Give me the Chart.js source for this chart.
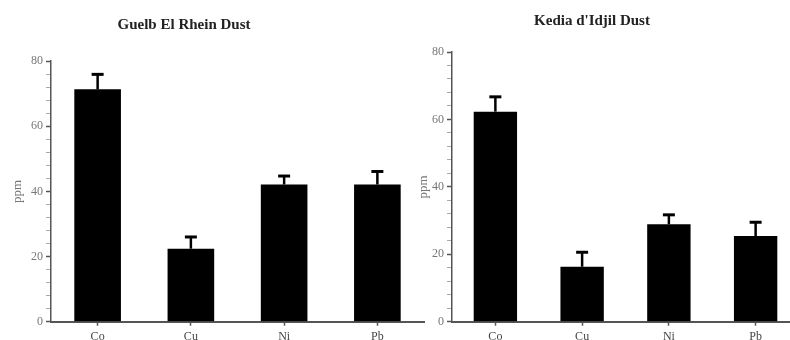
<!DOCTYPE html>
<html>
<head>
<meta charset="utf-8">
<script src="https://cdn.jsdelivr.net/npm/chart.js@4.4.1/dist/chart.umd.min.js"></script>
<style>
  html, body { margin: 0; padding: 0; background: #fff; overflow: hidden; }
  #wrap { position: relative; width: 790px; height: 340px; overflow: hidden; }
  canvas { position: absolute; top: 0; }
</style>
</head>
<body>
<div id="wrap">
  <canvas id="guelb" width="430" height="340" style="left:0" role="img" aria-label="Guelb El Rhein Dust: Co, Cu, Ni, Pb in ppm"></canvas>
  <canvas id="kedia" width="410" height="340" style="left:400px" role="img" aria-label="Kedia d'Idjil Dust: Co, Cu, Ni, Pb in ppm"></canvas>
</div>
<script>
// values (mean and upper error, ppm)
const categories = ['Co', 'Cu', 'Ni', 'Pb']
const guelbMean = [71.3, 22.4, 42.1, 42.1]
const guelbSD = [4.6, 3.6, 2.6, 4.0]
const kediaMean = [62.3, 16.3, 28.9, 25.4]
const kediaSD = [4.4, 4.3, 2.8, 4.1]
const yTicks = [0, 20, 40, 60, 80]

const SERIF = '"Liberation Serif", "DejaVu Serif", serif'

// one-sided error bars, drawn through the y scale
const errorBars = {
  id: 'errorBars',
  afterDatasetsDraw(chart, args, opts) {
    const { ctx, scales: { y } } = chart
    const meta = chart.getDatasetMeta(0)
    const sd = opts.sd || []
    ctx.save()
    ctx.strokeStyle = '#000'
    meta.data.forEach((bar, i) => {
      const v = chart.data.datasets[0].data[i]
      const top = y.getPixelForValue(v + sd[i])
      ctx.lineWidth = 2.5
      ctx.beginPath()
      ctx.moveTo(bar.x, bar.y)
      ctx.lineTo(bar.x, top)
      ctx.stroke()
      ctx.lineWidth = 3
      ctx.beginPath()
      ctx.moveTo(bar.x - 6, top)
      ctx.lineTo(bar.x + 6, top)
      ctx.stroke()
    })
    ctx.restore()
  }
}

const panelTitle = {
  id: 'panelTitle',
  afterDraw(chart, args, opts) {
    const { ctx } = chart
    ctx.save()
    ctx.font = 'bold 15px ' + SERIF
    ctx.fillStyle = '#222'
    ctx.textAlign = 'center'
    ctx.textBaseline = 'middle'
    ctx.fillText(opts.text, opts.x, opts.y)
    ctx.restore()
  }
}

function makeChart(id, title, mean, sd, g) {
  return new Chart(document.getElementById(id), {
    type: 'bar',
    data: {
      labels: categories,
      datasets: [{
        label: 'ppm',
        data: mean,
        backgroundColor: '#000',
        borderWidth: 0,
        barPercentage: 0.5,
        categoryPercentage: 1
      }]
    },
    plugins: [errorBars, panelTitle],
    options: {
      responsive: false,
      animation: false,
      layout: { padding: { top: g.top, right: g.right, left: 0, bottom: 0 } },
      plugins: {
        legend: { display: false },
        tooltip: { enabled: false },
        errorBars: { sd },
        panelTitle: { text: title, x: g.titleX, y: g.titleY }
      },
      scales: {
        x: {
          offset: true,
          border: { display: true, color: '#555', width: 2 },
          grid: { drawOnChartArea: false, offset: false, tickLength: 4, color: '#555', tickWidth: 1.5 },
          ticks: { color: '#444', padding: 4, font: { family: SERIF, size: 12 } },
          afterFit: s => { s.height = 340 - g.bottom }
        },
        y: {
          min: 0,
          max: 80,
          border: { display: true, color: '#555', width: 1.5 },
          grid: {
            drawOnChartArea: false,
            tickLength: 5,
            tickColor: c => (yTicks.includes(c.tick.value) ? '#555' : '#aaa'),
            tickWidth: c => (yTicks.includes(c.tick.value) ? 1.5 : 1)
          },
          ticks: {
            stepSize: 4,
            autoSkip: false,
            padding: 3,
            color: '#777',
            font: { family: SERIF, size: 12 },
            callback: v => (yTicks.includes(v) ? v : '')
          },
          title: {
            display: true,
            text: 'ppm',
            color: '#777',
            font: { family: SERIF, size: 13 },
            padding: { top: g.yTitle - 7.8, bottom: 0 }
          },
          afterFit: s => { s.width = g.left }
        }
      }
    }
  })
}

makeChart('guelb', 'Guelb El Rhein Dust', guelbMean, guelbSD,
  { left: 51, right: 6, top: 61, bottom: 321.7, titleX: 184, titleY: 25, yTitle: 18 })
makeChart('kedia', "Kedia d'Idjil Dust", kediaMean, kediaSD,
  { left: 52, right: 11, top: 52, bottom: 321.7, titleX: 192, titleY: 21, yTitle: 24 })
</script>
</body>
</html>
